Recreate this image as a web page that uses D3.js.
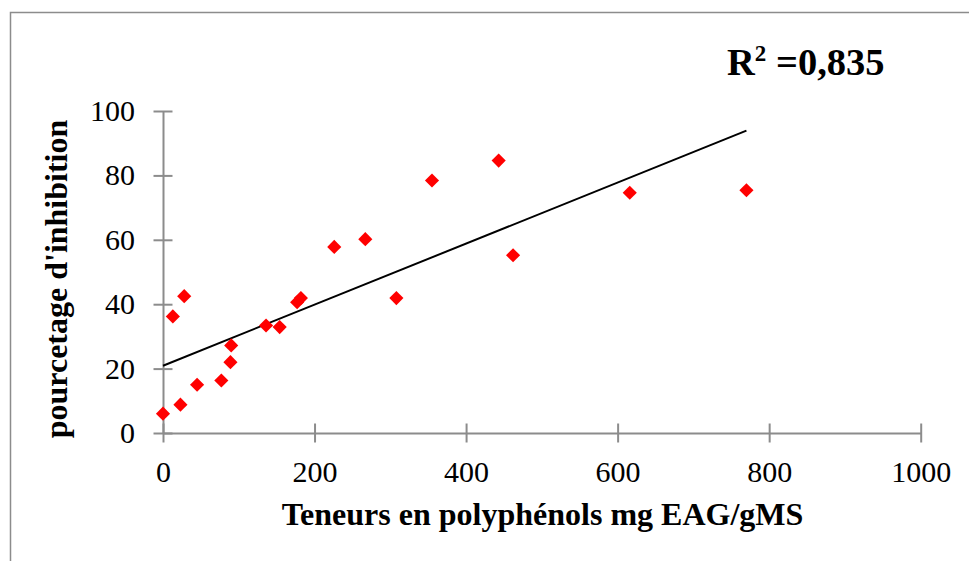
<!DOCTYPE html>
<html>
<head>
<meta charset="utf-8">
<script src="https://cdn.jsdelivr.net/npm/d3@7"></script>
<style>
  html, body { margin: 0; padding: 0; background: #fff; }
  svg { display: block; }
  text { font-family: "Liberation Serif", "Times New Roman", serif; fill: #000; }
</style>
</head>
<body>
<svg id="chart" width="969" height="561"></svg>
<script>
// Polyphenol content (mg EAG/gMS) and inhibition percentage per extract
const polyphenols = [0, 13, 23, 28, 45, 77, 89, 90, 136, 154, 177, 182, 226, 267, 308, 355, 443, 462, 616, 770];
const inhibition  = [6, 36.2, 8.8, 42.5, 15, 16.3, 22, 27.2, 33.4, 32.9, 40.6, 41.9, 57.8, 60.2, 41.9, 78.4, 84.6, 55.2, 74.6, 75.4];

// Linear trend line (intercept, slope) and its coefficient of determination
const trendIntercept = 20.9;
const trendSlope = 0.0948;
const rSquared = "0,835";

const xTicks = [0, 200, 400, 600, 800, 1000];
const yTicks = [0, 20, 40, 60, 80, 100];
const xTitle = "Teneurs en polyphénols mg EAG/gMS";
const yTitle = "pourcetage d'inhibition";

const svg = d3.select("#chart");

// outer chart frame
svg.append("rect")
  .attr("x", 10.5).attr("y", 12.5)
  .attr("width", 975).attr("height", 600)
  .attr("fill", "none").attr("stroke", "#8c8c8c").attr("stroke-width", 1.5);

const x = d3.scaleLinear().domain([0, 1000]).range([163, 920.7]);
const y = d3.scaleLinear().domain([0, 100]).range([433, 111]);

const axisColor = "#8c8c8c";

// x axis with ticks crossing the line
const xAxis = svg.append("g")
  .attr("transform", `translate(0,${y(0)})`)
  .call(d3.axisBottom(x).tickValues(xTicks).tickSize(0).tickPadding(0).tickFormat(d3.format("d")));
xAxis.select(".domain").attr("stroke", axisColor).attr("stroke-width", 2);
xAxis.selectAll(".tick line")
  .attr("y1", -9.5).attr("y2", 9.5)
  .attr("stroke", axisColor).attr("stroke-width", 2);
xAxis.selectAll(".tick text")
  .attr("y", 48.5).attr("dy", null)
  .attr("font-size", 30).attr("font-family", "Liberation Serif");

// y axis with ticks crossing the line
const yAxis = svg.append("g")
  .attr("transform", `translate(${x(0)},0)`)
  .call(d3.axisLeft(y).tickValues(yTicks).tickSize(0).tickPadding(0).tickFormat(d3.format("d")));
yAxis.select(".domain").attr("stroke", axisColor).attr("stroke-width", 2);
yAxis.selectAll(".tick line")
  .attr("x1", -9.5).attr("x2", 9.5)
  .attr("stroke", axisColor).attr("stroke-width", 2);
yAxis.selectAll(".tick text")
  .attr("x", -28).attr("dy", null).attr("y", 9.5)
  .attr("font-size", 30).attr("font-family", "Liberation Serif");

// trend line over the observed range
const xMax = d3.max(polyphenols);
svg.append("line")
  .attr("x1", x(0)).attr("y1", y(trendIntercept))
  .attr("x2", x(xMax)).attr("y2", y(trendIntercept + trendSlope * xMax))
  .attr("stroke", "#000").attr("stroke-width", 2);

// data points as red diamonds
const diamond = d3.symbol().type(d3.symbolSquare).size(100);
svg.append("g").selectAll("path")
  .data(d3.range(polyphenols.length))
  .join("path")
  .attr("d", diamond)
  .attr("transform", i => `translate(${x(polyphenols[i])},${y(inhibition[i])}) rotate(45)`)
  .attr("fill", "#ff0000");

// axis titles
svg.append("text")
  .attr("x", 542.5).attr("y", 525)
  .attr("text-anchor", "middle")
  .attr("font-size", 32).attr("font-weight", "bold")
  .text(xTitle);

svg.append("text")
  .attr("transform", "translate(67,279) rotate(-90)")
  .attr("text-anchor", "middle")
  .attr("font-size", 32).attr("font-weight", "bold")
  .text(yTitle);

// coefficient of determination label
const r2 = svg.append("text")
  .attr("x", 727).attr("y", 75)
  .attr("font-size", 38.5).attr("font-weight", "bold");
r2.append("tspan").text("R");
r2.append("tspan").attr("font-size", 23).attr("dy", -14).text("2");
r2.append("tspan").attr("dy", 14).text(" =" + rSquared);
</script>
</body>
</html>
